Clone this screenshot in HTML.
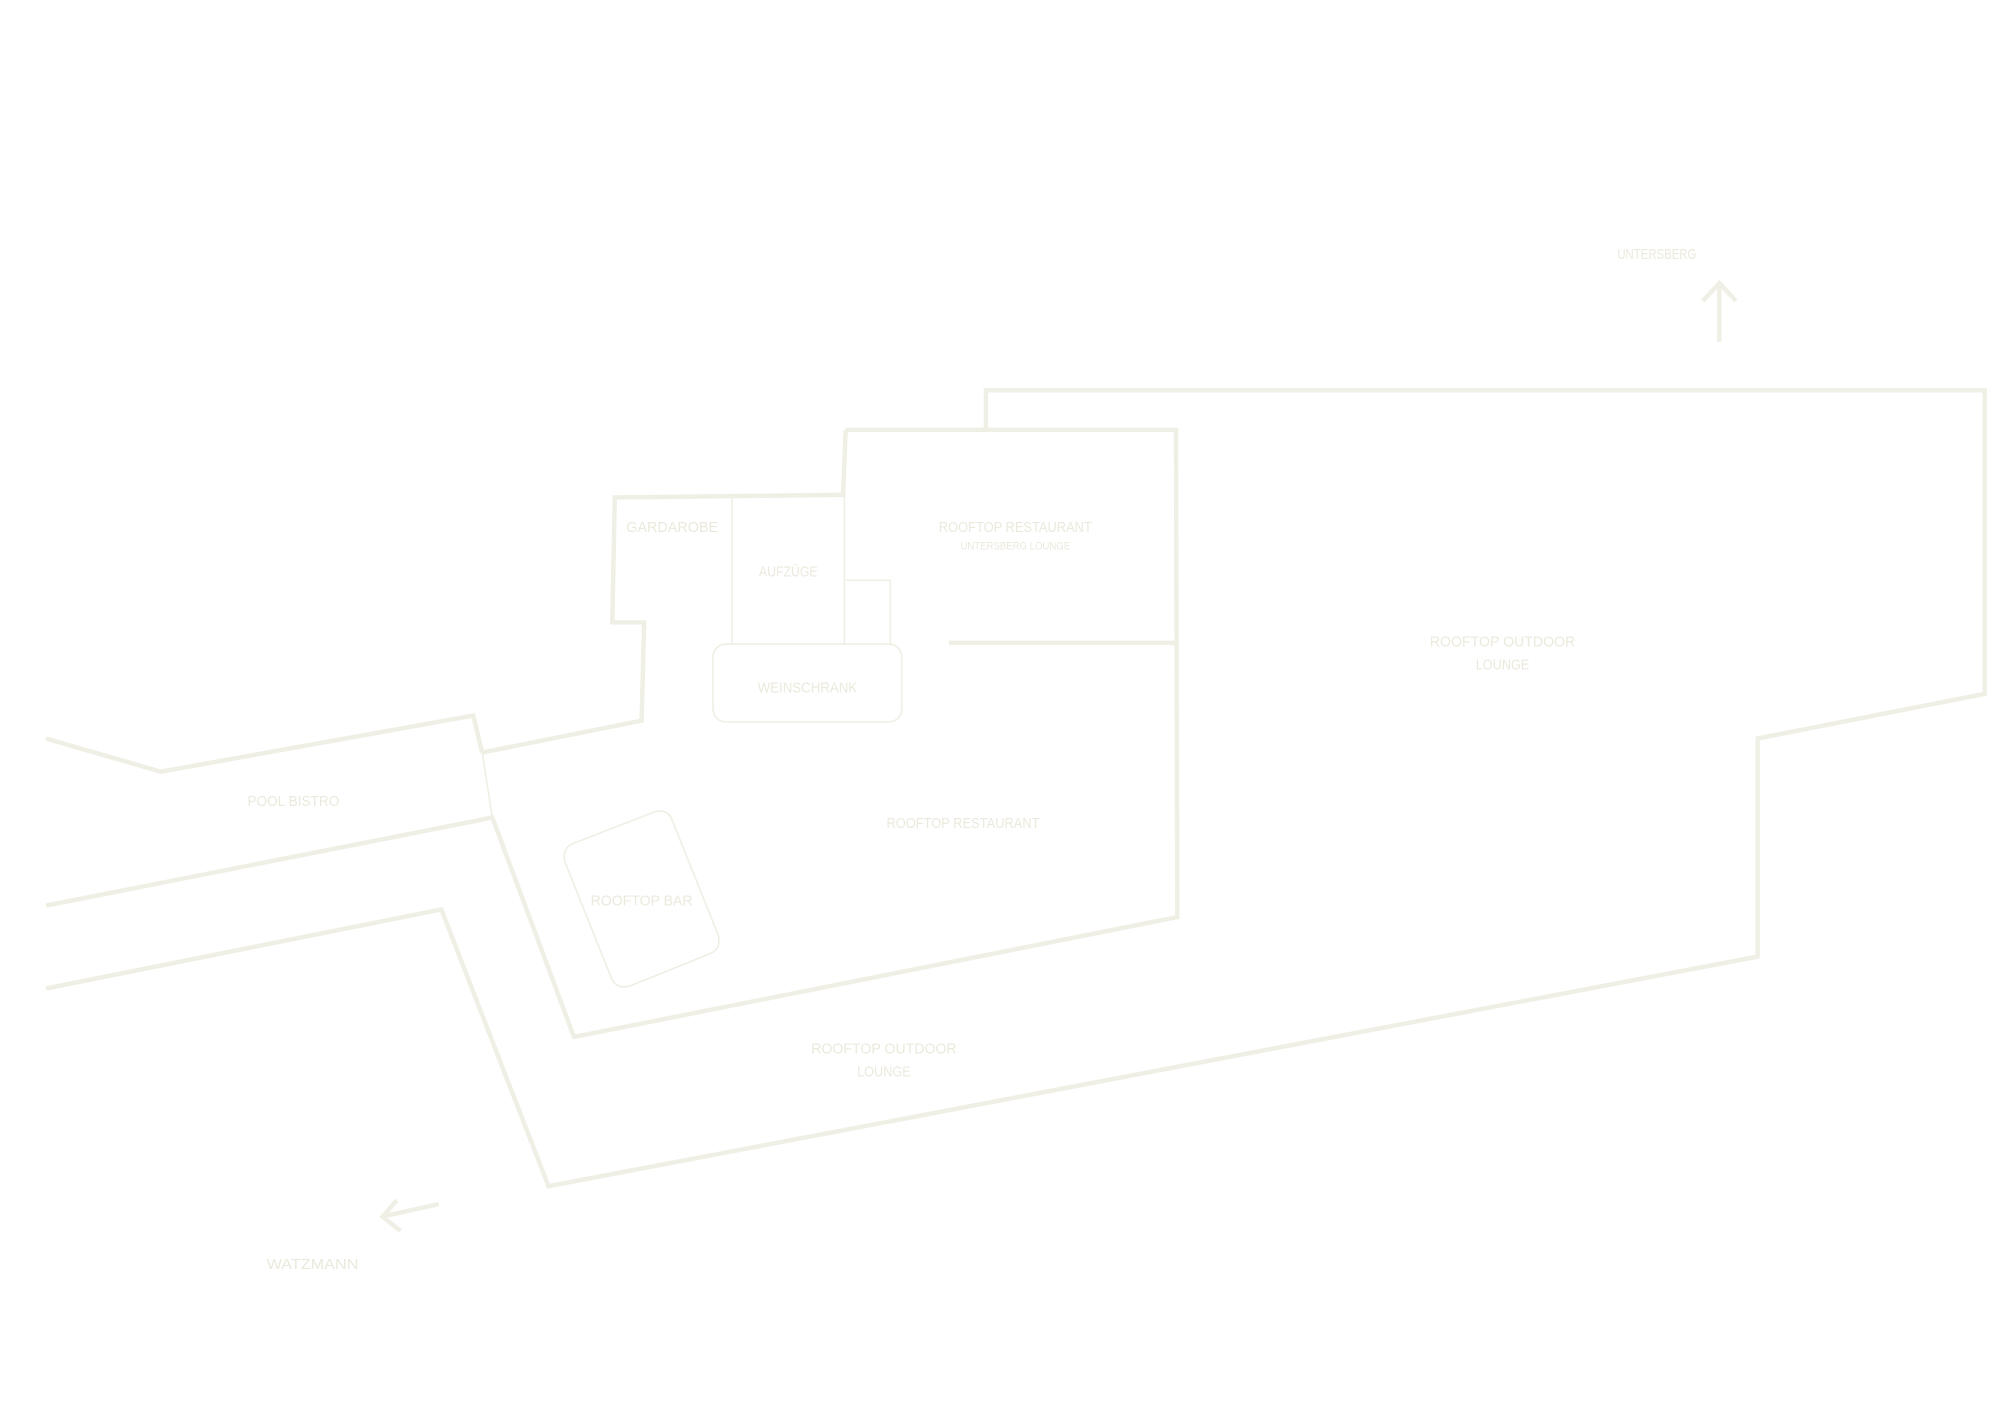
<!DOCTYPE html>
<html><head><meta charset="utf-8"><style>
html,body{margin:0;padding:0;background:#fff;width:2000px;height:1414px;overflow:hidden}
svg{display:block}
text{font-family:"Liberation Sans",sans-serif;fill:#ebe9dc;text-anchor:middle}
</style></head><body>
<svg width="2000" height="1414" viewBox="0 0 1568 1108.6" xmlns="http://www.w3.org/2000/svg">
<g fill="none" stroke="#f0efe5" stroke-width="3.5" stroke-linejoin="miter">
<polyline points="36,775 346,713 430,930 1378,750 1378,579 1556,544 1556,306 773,306 773,337"/>
<polyline points="663,337 922,337 923,719 450,813 386,641 36,710"/>
<polyline points="663,337 661,388 482,390 480,488 505,488 503,565 378,590"/>
<polyline points="36,579 126,605 371,561 378,590"/>
<line x1="744" y1="504" x2="922" y2="504"/>
<polyline points="1348,268 1348,222"/>
<polyline points="1335,236 1348,222 1361,236"/>
<polyline points="344,944 299,954"/>
<polyline points="311,941 300,954 314,965"/>
</g>
<g fill="none" stroke="#f0efe5" stroke-width="1.3">
<line x1="378" y1="590" x2="386" y2="641"/>
<line x1="574" y1="390" x2="574" y2="505"/>
<line x1="662" y1="388" x2="662" y2="505"/>
<polyline points="663,455 698,455 698,505"/>
<rect x="559" y="505" width="148" height="61" rx="10"/>
<path d="M450,661 L512,637 Q523,633 527,643 L563,733 Q566,744 556,748 L494,773 Q483,776 479,766 L443,676 Q440,665 450,661 Z"/>
</g>
<g font-size="11.5">
<text x="527" y="417" textLength="72" lengthAdjust="spacingAndGlyphs">GARDAROBE</text>
<text x="618" y="452" textLength="46" lengthAdjust="spacingAndGlyphs">AUFZÜGE</text>
<text x="796" y="417" textLength="120" lengthAdjust="spacingAndGlyphs">ROOFTOP RESTAURANT</text>
<text x="796" y="431" font-size="9" textLength="86" lengthAdjust="spacingAndGlyphs">UNTERSBERG LOUNGE</text>
<text x="633" y="543" textLength="78" lengthAdjust="spacingAndGlyphs">WEINSCHRANK</text>
<text x="755" y="649" textLength="120" lengthAdjust="spacingAndGlyphs">ROOFTOP RESTAURANT</text>
<text x="1178" y="507" textLength="114" lengthAdjust="spacingAndGlyphs">ROOFTOP OUTDOOR</text>
<text x="1178" y="525" textLength="42" lengthAdjust="spacingAndGlyphs">LOUNGE</text>
<text x="230" y="632" textLength="72" lengthAdjust="spacingAndGlyphs">POOL BISTRO</text>
<text x="503" y="710" textLength="80" lengthAdjust="spacingAndGlyphs">ROOFTOP BAR</text>
<text x="693" y="826" textLength="114" lengthAdjust="spacingAndGlyphs">ROOFTOP OUTDOOR</text>
<text x="693" y="844" textLength="42" lengthAdjust="spacingAndGlyphs">LOUNGE</text>
<text x="1299" y="203" textLength="62" lengthAdjust="spacingAndGlyphs">UNTERSBERG</text>
<text x="245" y="995" textLength="72" lengthAdjust="spacingAndGlyphs">WATZMANN</text>
</g>
</svg>
</body></html>
